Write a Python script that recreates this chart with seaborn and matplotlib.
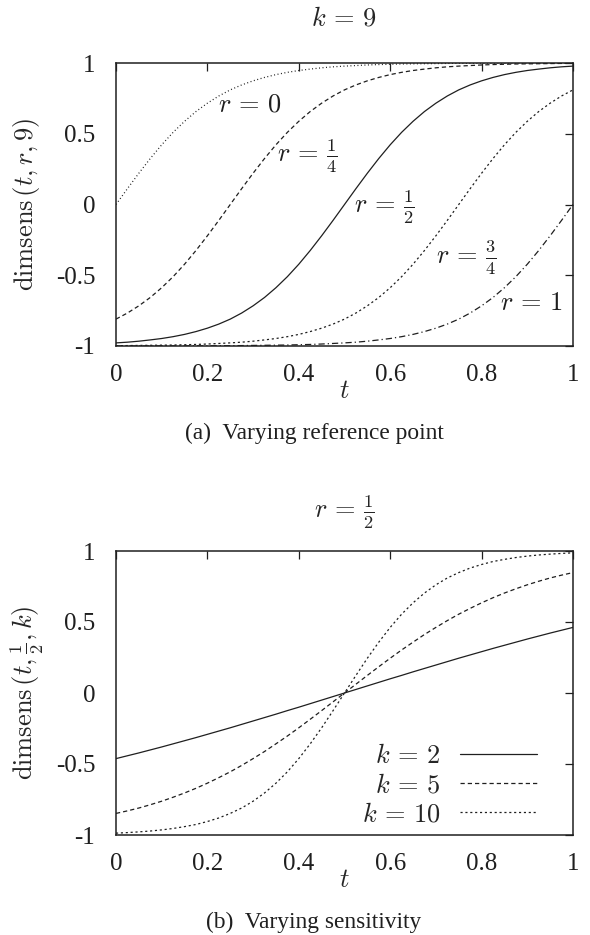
import pandas as pd
import matplotlib
matplotlib.use("Agg")
import matplotlib.pyplot as plt
from matplotlib.ticker import FixedLocator, FixedFormatter
import seaborn as sns

# data (t step 0.025)
t = [i / 40 for i in range(41)]

# (a) k = 9, varying r
r0 = [0.000, 0.112, 0.221, 0.325, 0.422, 0.510, 0.588, 0.657, 0.716, 0.767,
      0.810, 0.845, 0.874, 0.898, 0.918, 0.934, 0.947, 0.957, 0.966, 0.973,
      0.978, 0.982, 0.986, 0.989, 0.991, 0.993, 0.994, 0.995, 0.996, 0.997,
      0.998, 0.998, 0.999, 0.999, 0.999, 0.999, 0.999, 1.000, 1.000, 1.000, 1.000]
r14 = [-0.810, -0.767, -0.716, -0.657, -0.588, -0.510, -0.422, -0.325, -0.221, -0.112,
       0.000, 0.112, 0.221, 0.325, 0.422, 0.510, 0.588, 0.657, 0.716, 0.767,
       0.810, 0.845, 0.874, 0.898, 0.918, 0.934, 0.947, 0.957, 0.966, 0.973,
       0.978, 0.982, 0.986, 0.989, 0.991, 0.993, 0.994, 0.995, 0.996, 0.997, 0.998]
r12 = [-0.978, -0.973, -0.966, -0.957, -0.947, -0.934, -0.918, -0.898, -0.874, -0.845,
       -0.810, -0.767, -0.716, -0.657, -0.588, -0.510, -0.422, -0.325, -0.221, -0.112,
       0.000, 0.112, 0.221, 0.325, 0.422, 0.510, 0.588, 0.657, 0.716, 0.767,
       0.810, 0.845, 0.874, 0.898, 0.918, 0.934, 0.947, 0.957, 0.966, 0.973, 0.978]
r34 = [-0.998, -0.997, -0.996, -0.995, -0.994, -0.993, -0.991, -0.989, -0.986, -0.982,
       -0.978, -0.973, -0.966, -0.957, -0.947, -0.934, -0.918, -0.898, -0.874, -0.845,
       -0.810, -0.767, -0.716, -0.657, -0.588, -0.510, -0.422, -0.325, -0.221, -0.112,
       0.000, 0.112, 0.221, 0.325, 0.422, 0.510, 0.588, 0.657, 0.716, 0.767, 0.810]
r1 = [-1.000, -1.000, -1.000, -1.000, -0.999, -0.999, -0.999, -0.999, -0.999, -0.998,
      -0.998, -0.997, -0.996, -0.995, -0.994, -0.993, -0.991, -0.989, -0.986, -0.982,
      -0.978, -0.973, -0.966, -0.957, -0.947, -0.934, -0.918, -0.898, -0.874, -0.845,
      -0.810, -0.767, -0.716, -0.657, -0.588, -0.510, -0.422, -0.325, -0.221, -0.112, 0.000]

# (b) r = 1/2, varying k
k2 = [-0.462, -0.442, -0.422, -0.401, -0.380, -0.358, -0.336, -0.314, -0.291, -0.268,
      -0.245, -0.221, -0.197, -0.173, -0.149, -0.124, -0.100, -0.075, -0.050, -0.025,
      0.000, 0.025, 0.050, 0.075, 0.100, 0.124, 0.149, 0.173, 0.197, 0.221,
      0.245, 0.268, 0.291, 0.314, 0.336, 0.358, 0.380, 0.401, 0.422, 0.442, 0.462]
k5 = [-0.848, -0.830, -0.810, -0.787, -0.762, -0.734, -0.704, -0.671, -0.635, -0.596,
      -0.555, -0.510, -0.462, -0.412, -0.358, -0.303, -0.245, -0.185, -0.124, -0.062,
      0.000, 0.062, 0.124, 0.185, 0.245, 0.303, 0.358, 0.412, 0.462, 0.510,
      0.555, 0.596, 0.635, 0.671, 0.704, 0.734, 0.762, 0.787, 0.810, 0.830, 0.848]
k10 = [-0.987, -0.983, -0.978, -0.972, -0.964, -0.954, -0.941, -0.926, -0.905, -0.880,
       -0.848, -0.810, -0.762, -0.704, -0.635, -0.555, -0.462, -0.358, -0.245, -0.124,
       0.000, 0.124, 0.245, 0.358, 0.462, 0.555, 0.635, 0.704, 0.762, 0.810,
       0.848, 0.880, 0.905, 0.926, 0.941, 0.954, 0.964, 0.972, 0.978, 0.983, 0.987]

r_names = ["r0", "r14", "r12", "r34", "r1"]
r_labels = [r"$r\,=\,0$", r"$r\,=\,\frac{1}{4}$", r"$r\,=\,\frac{1}{2}$",
            r"$r\,=\,\frac{3}{4}$", r"$r\,=\,1$"]
r_label_pos = [(0.223, 0.70), (0.352, 0.34), (0.521, -0.02), (0.70, -0.38), (0.84, -0.70)]
k_names = ["k2", "k5", "k10"]
k_labels = [r"$k\,=\,2$", r"$k\,=\,5$", r"$k\,=\,10$"]

yticks = [-1, -0.5, 0, 0.5, 1]
ytick_labels = ["-1", "-0.5", "0", "0.5", "1"]
xticks = [0, 0.2, 0.4, 0.6, 0.8, 1]
xtick_labels = ["0", "0.2", "0.4", "0.6", "0.8", "1"]

df_a = pd.DataFrame({"t": t * 5,
                     "val": r0 + r14 + r12 + r34 + r1,
                     "curve": sum([[n] * len(t) for n in r_names], [])})
df_b = pd.DataFrame({"t": t * 3,
                     "val": k2 + k5 + k10,
                     "curve": sum([[n] * len(t) for n in k_names], [])})

sns.set_style("white")
plt.rcParams["font.family"] = ["Liberation Serif", "DejaVu Serif"]
plt.rcParams["mathtext.fontset"] = "cm"
plt.rcParams["axes.unicode_minus"] = False

INK = "#1f1f1f"
dashes_a = {"r0": (0.8, 2.0), "r14": (3.4, 2.4), "r12": "", "r34": (1.7, 2.2),
            "r1": (5.0, 2.4, 1.0, 2.4)}
dashes_b = {"k2": "", "k5": (3.4, 2.4), "k10": (1.7, 2.2)}

fig = plt.figure(figsize=(5.9, 9.35), dpi=100)
W, H = 590, 935
ax_a = fig.add_axes([116 / W, 1 - 346 / H, 457 / W, 283 / H])
ax_b = fig.add_axes([116 / W, 1 - 835 / H, 457 / W, 284 / H])

sns.lineplot(data=df_a, x="t", y="val", hue="curve", style="curve",
             hue_order=r_names, style_order=r_names, palette=[INK] * 5,
             dashes=dashes_a, linewidth=0.9, legend=False, ax=ax_a)
sns.lineplot(data=df_b, x="t", y="val", hue="curve", style="curve",
             hue_order=k_names, style_order=k_names, palette=[INK] * 3,
             dashes=dashes_b, linewidth=0.9, legend=False, ax=ax_b)

for ax in (ax_a, ax_b):
    ax.set_xlim(0, 1)
    ax.set_ylim(-1, 1)
    ax.xaxis.set_major_locator(FixedLocator(xticks))
    ax.xaxis.set_major_formatter(FixedFormatter(xtick_labels))
    ax.yaxis.set_major_locator(FixedLocator(yticks))
    ax.yaxis.set_major_formatter(FixedFormatter(ytick_labels))
    ax.tick_params(direction="in", top=True, right=True, length=6, width=0.9,
                   color=INK, labelsize=18, labelcolor=INK, pad=13)
    ax.tick_params(axis="y", pad=15)
    for s in ax.spines.values():
        s.set_color(INK)
        s.set_linewidth(1.1)
    ax.set_xlabel(r"$t$", fontsize=19, va="center")
    ax.xaxis.set_label_coords(0.5, -0.163)

ax_a.set_ylabel(r"$\mathrm{dimsens}\,(t, r, 9)$", fontsize=19, va="center")
ax_a.yaxis.set_label_coords(-0.195, 0.5)
ax_b.set_ylabel(r"$\mathrm{dimsens}\,(t, \frac{1}{2}, k)$", fontsize=19, va="center")
ax_b.yaxis.set_label_coords(-0.195, 0.5)

for lab, (x, y) in zip(r_labels, r_label_pos):
    ax_a.text(x, y, lab, fontsize=19, ha="left", va="center", color=INK)

ax_b.legend(ax_b.lines[:3], k_labels, loc="lower right", bbox_to_anchor=(0.921, 0.03),
            frameon=False, markerfirst=False, fontsize=19, handlelength=2.9,
            handletextpad=0.75, labelspacing=0.2, borderpad=0, borderaxespad=0)

fig.text(344 / W, 1 - 18 / H, r"$k\,=\,9$", fontsize=19, ha="center", va="center")
fig.text(344 / W, 1 - 512 / H, r"$r\,=\,\frac{1}{2}$", fontsize=19, ha="center", va="center")
fig.text(314 / W, 1 - 433 / H, "(a)  Varying reference point", fontsize=16.8,
         ha="center", va="center", color=INK)
fig.text(314 / W, 1 - 922 / H, "(b)  Varying sensitivity", fontsize=16.8,
         ha="center", va="center", color=INK)

fig.savefig("out.png", dpi=100)
